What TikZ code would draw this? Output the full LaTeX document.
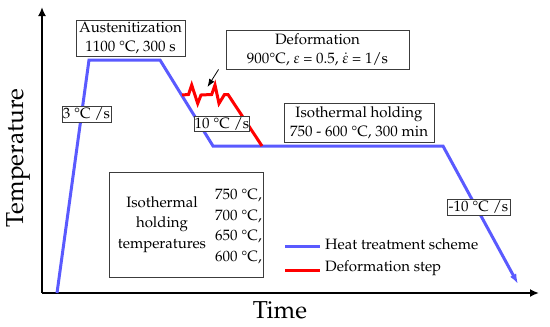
\documentclass[tikz,border=0pt]{standalone}
\usepackage[T1]{fontenc}
\usepackage{mathpazo}
\usetikzlibrary{arrows.meta}
\definecolor{hblue}{RGB}{90,90,255}
\definecolor{hred}{RGB}{255,0,0}
\definecolor{bgray}{RGB}{60,60,60}
\begin{document}
\begin{tikzpicture}[x=1pt,y=-1pt,
  lbl/.style={draw=bgray, line width=0.9pt, fill=white, inner sep=0pt, align=center,
    font=\fontsize{15}{19}\selectfont},
  txt/.style={inner sep=0pt, font=\fontsize{15}{19}\selectfont},
  axis/.style={line width=2.4pt, -{Latex[length=9pt,width=8pt]}},
  heat/.style={hblue, line width=3pt, line join=miter},
  defo/.style={hred, line width=3pt, line join=miter}]
\useasboundingbox (0,0) rectangle (550,327);
% axes
\coordinate (O) at (42,293);
\coordinate (ytop) at (42,7);
\coordinate (xend) at (539,293);
\draw[axis] (O) -- (ytop);
\draw[axis] (O) -- (xend);
\node[inner sep=0pt, font=\fontsize{24.5}{28}\selectfont] (time) at (280,310) {Time};
\node[inner sep=0pt, rotate=90, font=\fontsize{24.5}{28}\selectfont] (temp) at (18,158) {Temperature};
% heat treatment path
\coordinate (h0) at (57,293);
\coordinate (h1) at (89,60);
\coordinate (h2) at (160,60);
\coordinate (h3) at (213,146);
\coordinate (h4) at (443,146);
\coordinate (h5) at (518,284);
\draw[heat, -{Latex[length=10pt,width=7pt]}] (h0) -- (h1) -- (h2) -- (h3) -- (h4) -- (h5);
% deformation path
\coordinate (d0) at (182,95);
\coordinate (d10) at (262,146);
\draw[defo] (d0) -- (188.5,94.5) -- (191.7,85) -- (197.7,103.5) -- (201,95) -- (211.7,94.5)
  -- (215,85) -- (219,103.5) -- (224.5,94.5) -- (228,94.5) -- (d10);
% boxes
\node[lbl, minimum width=109pt, minimum height=36pt] (aus) at (130.5,38)
  {Austenitization\\1100 \textdegree C, 300 s};
\node[lbl, minimum width=183pt, minimum height=39pt] (def) at (317.5,49.5)
  {Deformation\\900\textdegree C, $\varepsilon$ = 0.5, $\dot{\varepsilon}$ = 1/s};
\node[lbl, minimum width=49pt, minimum height=16pt] (r3) at (86.5,114) {3 \textdegree C /s};
\node[lbl, minimum width=52pt, minimum height=15pt] (r10) at (222,123.5) {10 \textdegree C /s};
\node[lbl, minimum width=150pt, minimum height=39pt] (iso) at (359,122.5)
  {Isothermal holding\\750 - 600 \textdegree C, 300 min};
\node[lbl, minimum width=63pt, minimum height=16pt] (rm10) at (478.5,207) {-10 \textdegree C /s};
\node[lbl, minimum width=154pt, minimum height=105pt] (temps) at (186,224.5) {};
\node[txt, align=center] (tl) at (162,224.5) {Isothermal\\[1.5pt]holding\\[1.5pt]temperatures};
\node[txt, align=left, anchor=west] (tr) at (215,226.5)
  {750 \textdegree C,\\[1.5pt]700 \textdegree C,\\[1.5pt]650 \textdegree C,\\[1.5pt]600 \textdegree C,};
% deformation arrow
\coordinate (dpt) at (207.5,87);
\draw[line width=0.8pt, -{Latex[length=8pt,width=6pt]}] (def.south west) ++(-7,0) coordinate (dst) (dst) -- (dpt);
% legend
\coordinate (lb0) at (285,246);
\coordinate (lb1) at (320,246);
\coordinate (lr0) at (285,270);
\coordinate (lr1) at (320,270);
\draw[heat] (lb0) -- (lb1);
\draw[defo] (lr0) -- (lr1);
\node[txt, anchor=west] (lbt) at (325,244.5) {Heat treatment scheme};
\node[txt, anchor=west] (lrt) at (325,268.5) {Deformation step};
\end{tikzpicture}
\end{document}
